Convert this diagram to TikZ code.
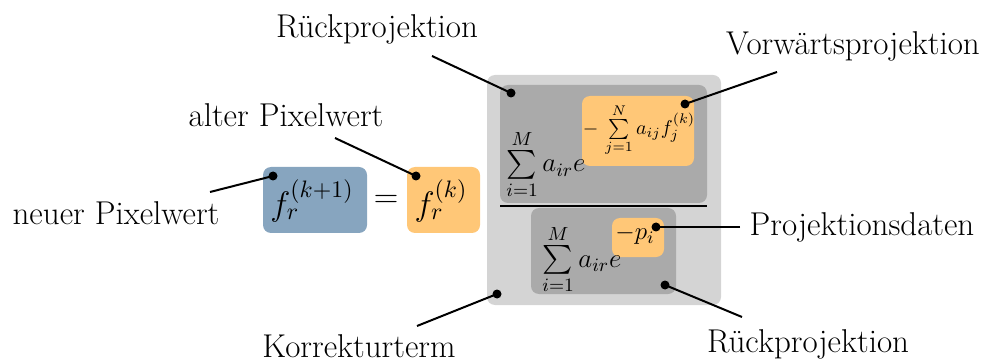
\RequirePackage{fix-cm}
\documentclass[tikz,border=0pt]{standalone}
\usepackage{amsmath}
\usepackage{fontspec}
\usetikzlibrary{fit}
\definecolor{lgray}{HTML}{D4D4D4}
\definecolor{dgray}{HTML}{AAAAAA}
\definecolor{orng}{HTML}{FFC777}
\definecolor{blu}{HTML}{87A5BF}
\begin{document}
\begin{tikzpicture}[x=0.5pt,y=-0.5pt,
  box/.style={inner sep=0pt, rounded corners=4pt},
  lbl/.style={font=\fontsize{16.5}{19}\selectfont, inner sep=0pt, anchor=base},
  bigmath/.style={font=\fontsize{17}{20}\selectfont, inner sep=0pt},
  summath/.style={font=\fontsize{13.5}{15}\selectfont, inner sep=0pt},
  expmath/.style={font=\fontsize{10}{12}\selectfont, inner sep=0pt},
  pmath/.style={font=\fontsize{12.5}{15}\selectfont, inner sep=0pt},
  dot/.style={circle, fill=black, inner sep=0pt, minimum size=4.5pt},
  conn/.style={line width=1pt}]
\useasboundingbox (0,0) rectangle (984,363);
% boxes
\node[box, fill=lgray, fit={(487,75)(721,305)}] (outer) {};
\node[box, fill=dgray, fit={(500,85)(707,203)}] (upper) {};
\node[box, fill=dgray, fit={(531,208)(676,294)}] (lower) {};
\node[box, fill=orng, fit={(582,96)(694,166)}] (uexp) {};
\node[box, fill=orng, fit={(612,218)(664,257)}] (lexp) {};
\node[box, fill=blu, fit={(263,167)(367,233)}] (fnew) {};
\node[box, fill=orng, fit={(407,167)(480,233)}] (fold) {};
% formula
\node[bigmath] (fnewt) at (312,201) {$f_r^{(k+1)}$};
\node[bigmath] (eq) at (386,201) {$=$};
\node[bigmath] (foldt) at (441,201) {$f_r^{(k)}$};
\node[summath, anchor=base west] (usum) at (506,172) {$\sum\limits_{i=1}^{M} a_{ir}e$};
\node[expmath] (uexpt) at (639,130) {${-}\,\sum\limits_{j=1}^{N} a_{ij} f_j^{(k)}$};
\node[summath, anchor=base west] (lsum) at (542,267) {$\sum\limits_{i=1}^{M} a_{ir}e$};
\node[pmath, anchor=base] (lexpt) at (635,240) {${-}p_i$};
\coordinate (fl) at (500,206);
\coordinate (fr) at (707,206);
\draw[line width=0.7pt] (fl) -- (fr);
% labels
\node[lbl] (rp1) at (377,38) {Rückprojektion};
\node[lbl] (alt) at (286,127) {alter Pixelwert};
\node[lbl] (neu) at (116,225) {neuer Pixelwert};
\node[lbl] (vor) at (853,55) {Vorwärtsprojektion};
\node[lbl] (proj) at (862,235) {Projektionsdaten};
\node[lbl] (rp2) at (808,352) {Rückprojektion};
\node[lbl] (kor) at (359,357) {Korrekturterm};
% dots
\node[dot] (d1) at (511,93) {};
\node[dot] (d2) at (416,176) {};
\node[dot] (d3) at (273,176) {};
\node[dot] (d4) at (685,104) {};
\node[dot] (d5) at (656,227) {};
\node[dot] (d6) at (665,285) {};
\node[dot] (d7) at (497,294) {};
% connector ends
\coordinate (e1) at (432,56);
\coordinate (e2) at (335,138);
\coordinate (e3) at (210,192);
\coordinate (e4) at (777,72);
\coordinate (e5) at (740,227);
\coordinate (e6) at (742,317);
\coordinate (e7) at (417,326);
\draw[conn] (e1) -- (d1.center);
\draw[conn] (e2) -- (d2.center);
\draw[conn] (e3) -- (d3.center);
\draw[conn] (e4) -- (d4.center);
\draw[conn] (e5) -- (d5.center);
\draw[conn] (e6) -- (d6.center);
\draw[conn] (e7) -- (d7.center);
\end{tikzpicture}
\end{document}
